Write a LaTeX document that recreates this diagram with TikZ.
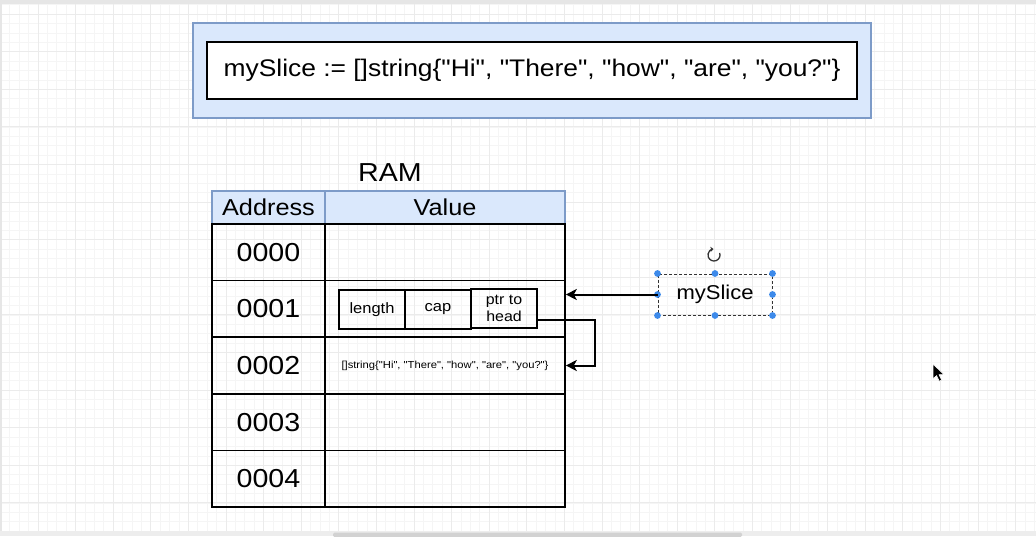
\documentclass[tikz,border=0pt]{standalone}
\usepackage{fontspec}
\setmainfont{Liberation Sans}[FakeStretch=1.1, Ligatures=TeXOff]
\usetikzlibrary{arrows.meta,calc}
\definecolor{bluefill}{HTML}{DAE8FC}
\definecolor{bluebd}{HTML}{7D9BC8}
\definecolor{gridminor}{HTML}{F5F5F5}
\definecolor{gridmajor}{HTML}{EBEBEB}
\definecolor{handleblue}{HTML}{3D8AEA}
\definecolor{framegrey}{HTML}{E6E6E6}
\definecolor{scrollgrey}{HTML}{D2D2D2}
\begin{document}
\begin{tikzpicture}[x=1pt,y=-1pt,
  fs/.style={font=\fontsize{#1}{\dimexpr #1pt*6/5\relax}\selectfont},
  hdr/.style={draw=bluebd, fill=bluefill, line width=1.3pt, minimum width=#1, minimum height=33pt, inner sep=0pt, fs=23},
  cell/.style={draw=black, line width=1.6pt, minimum width=#1, minimum height=56.6pt, inner sep=0pt, fs=26},
  sub/.style={draw=black, line width=1.3pt, minimum width=66pt, minimum height=39pt, inner sep=0pt, fs=15, align=center},
  conn/.style={draw=black, line width=2pt, -{Stealth[length=11pt,width=11pt,inset=3pt]}},
  handle/.style={fill=handleblue}]
\useasboundingbox (0,0) rectangle (1036,536);
\fill[white] (0,0) rectangle (1036,536);
% grid
\foreach \i in {0,...,110} \draw[gridminor, line width=0.7pt] (\i*9.4+0.4,0) -- (\i*9.4+0.4,536);
\foreach \i in {-1,...,56} \draw[gridminor, line width=0.7pt] (0,14.1+\i*9.4) -- (1036,14.1+\i*9.4);
\foreach \i in {0,...,27} \draw[gridmajor, line width=0.9pt] (\i*37.6+0.4,0) -- (\i*37.6+0.4,536);
\foreach \i in {0,...,14} \draw[gridmajor, line width=0.9pt] (0,14.1+\i*37.6) -- (1036,14.1+\i*37.6);
% frame
\fill[framegrey] (0,0) rectangle (1036,4);
\fill[framegrey] (0,0) rectangle (2,536);
\fill[framegrey!70] (0,531) rectangle (1036,536);
\fill[scrollgrey, rounded corners=1.5pt] (333,532.5) rectangle (742,537);
% top code box
\node[draw=bluebd, fill=bluefill, line width=1.5pt, minimum width=678pt, minimum height=95pt, inner sep=0pt] (outer) at (532,70.5) {};
\node[draw=black, fill=white, line width=1.5pt, minimum width=650pt, minimum height=57pt, inner sep=0pt, fs=24] (code) at (532,70.5) {mySlice := []string\{"Hi", "There", "how", "are", "you?"\}};
% RAM table
\node[fs=26] (ram) at (390,173) {RAM};
\node[hdr=113pt] (ha) at (268.5,207.5) {Address};
\node[hdr=240pt] (hv) at (445,207.5) {Value};
\foreach \r/\y in {0/252.3,1/308.9,2/365.5,3/422.1,4/478.7} {
  \node[cell=113pt] (a\r) at (268.5,\y) {000\r};
  \node[cell=240pt] (v\r) at (445,\y) {};
}
% slice header
\node[sub] (len) at (372,309.5) {length};
\node[sub] (cap) at (438,309.5) {cap};
\node[sub, fs=14.5] (ptr) at (504,308.5) {ptr to\\head};
\node[fs=10.2] (arr) at (445,366) {[]string\{"Hi", "There", "how", "are", "you?"\}};
% mySlice variable
\node[draw=black!80, dash pattern=on 3pt off 2pt, line width=1pt, minimum width=114pt, minimum height=41pt, inner sep=0pt, fs=20] (ms) at (715,294.5) {mySlice};
\foreach \a in {north west,north,north east,east,south east,south,south west,west}
  \fill[handle] (ms.\a) circle (3.4pt);
\coordinate (rot) at (714,255);
\draw[black!80, line width=1.3pt, -{Stealth[length=3pt,width=5pt]}] (rot) ++(-20:6) arc[start angle=-20, end angle=265, radius=6];
% connectors
\draw[conn] (ms.west) -- (ms.west -| v1.east);
\draw[conn] ([yshift=-11.5pt]ptr.east) -- ++(57,0) |- (v2.east);
% cursor
\coordinate (cur) at (933,364);
\fill[black, draw=white, line width=0.6pt] (cur) -- ++(0,15) -- ++(3.6,-3.4) -- ++(2.6,5.6) -- ++(2.4,-1.1) -- ++(-2.5,-5.4) -- ++(5,0) -- cycle;
\end{tikzpicture}
\end{document}
